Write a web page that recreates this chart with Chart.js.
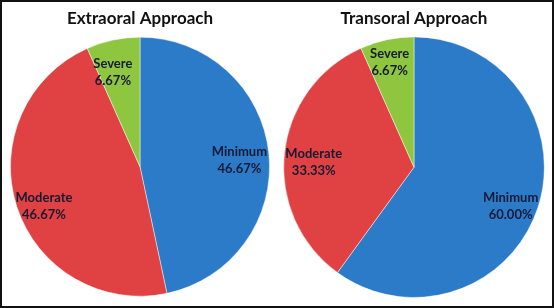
<!DOCTYPE html>
<html>
<head>
<meta charset="utf-8">
<script src="https://cdn.jsdelivr.net/npm/chart.js@4.4.1/dist/chart.umd.min.js"></script>
<style>
  html, body { margin: 0; padding: 0; background: #fff; }
  #frame {
    position: relative;
    width: 554px;
    height: 308px;
    box-sizing: border-box;
    border: 2px solid #111;
    overflow: hidden;
  }
  .box { position: absolute; top: -2px; }
  #leftBox { left: 8px; width: 260px; height: 297px; }
  #rightBox { left: 281px; width: 262px; height: 298px; }
</style>
</head>
<body>
<div id="frame">
  <div class="box" id="leftBox"><canvas id="extraChart"></canvas></div>
  <div class="box" id="rightBox"><canvas id="transChart"></canvas></div>
</div>
<script>
// Data
const categories = ["Minimum", "Moderate", "Severe"];
const extraoralValues = [46.67, 46.67, 6.67];
const transoralValues = [60.0, 33.33, 6.67];
const sliceColors = ["#2b7bc9", "#e04142", "#8fc640"];

// draws "Name" + "xx.xx%" inside each slice
const sliceLabels = {
  id: "sliceLabels",
  afterDatasetsDraw(chart, args, opts) {
    const ctx = chart.ctx;
    const meta = chart.getDatasetMeta(0);
    const values = chart.data.datasets[0].data;
    ctx.save();
    ctx.fillStyle = "#171a33";
    ctx.font = "bold 13px Lato, 'Open Sans', sans-serif";
    ctx.textAlign = "center";
    ctx.textBaseline = "middle";
    meta.data.forEach((arc, i) => {
      const p = arc.getProps(["x", "y", "startAngle", "endAngle", "outerRadius"], true);
      // nudge angle / distance a little per slice, like the original layout
      const mid = (p.startAngle + p.endAngle) / 2 + (opts.turn[i] * Math.PI) / 180;
      const r = p.outerRadius * opts.radius[i];
      const x = p.x + Math.cos(mid) * r;
      const y = p.y + Math.sin(mid) * r;
      ctx.fillText(chart.data.labels[i], x, y - 8);
      ctx.fillText(values[i].toFixed(2) + "%", x, y + 9);
    });
    ctx.restore();
  },
};

function makePie(id, title, values, labelRadius, labelTurn) {
  return new Chart(document.getElementById(id).getContext("2d"), {
    type: "pie",
    data: {
      labels: categories,
      datasets: [
        {
          data: values,
          backgroundColor: sliceColors,
          borderColor: "rgba(255,255,255,0.45)",
          borderWidth: 1,
        },
      ],
    },
    options: {
      responsive: true,
      maintainAspectRatio: false,
      animation: false,
      layout: { padding: 0 },
      plugins: {
        legend: { display: false },
        tooltip: { enabled: false },
        title: {
          display: true,
          text: title,
          color: "#111",
          font: { family: "Lato, 'Open Sans', sans-serif", size: 17, weight: "bold" },
          padding: { top: 8, bottom: 8 },
        },
        sliceLabels: { radius: labelRadius, turn: labelTurn },
      },
    },
    plugins: [sliceLabels],
  });
}

makePie("extraChart", "Extraoral Approach", extraoralValues, [0.77, 0.8, 0.76], [2, -4, -4]);
makePie("transChart", "Transoral Approach", transoralValues, [0.8, 0.77, 0.83], [4, -3, -1]);
</script>
</body>
</html>
